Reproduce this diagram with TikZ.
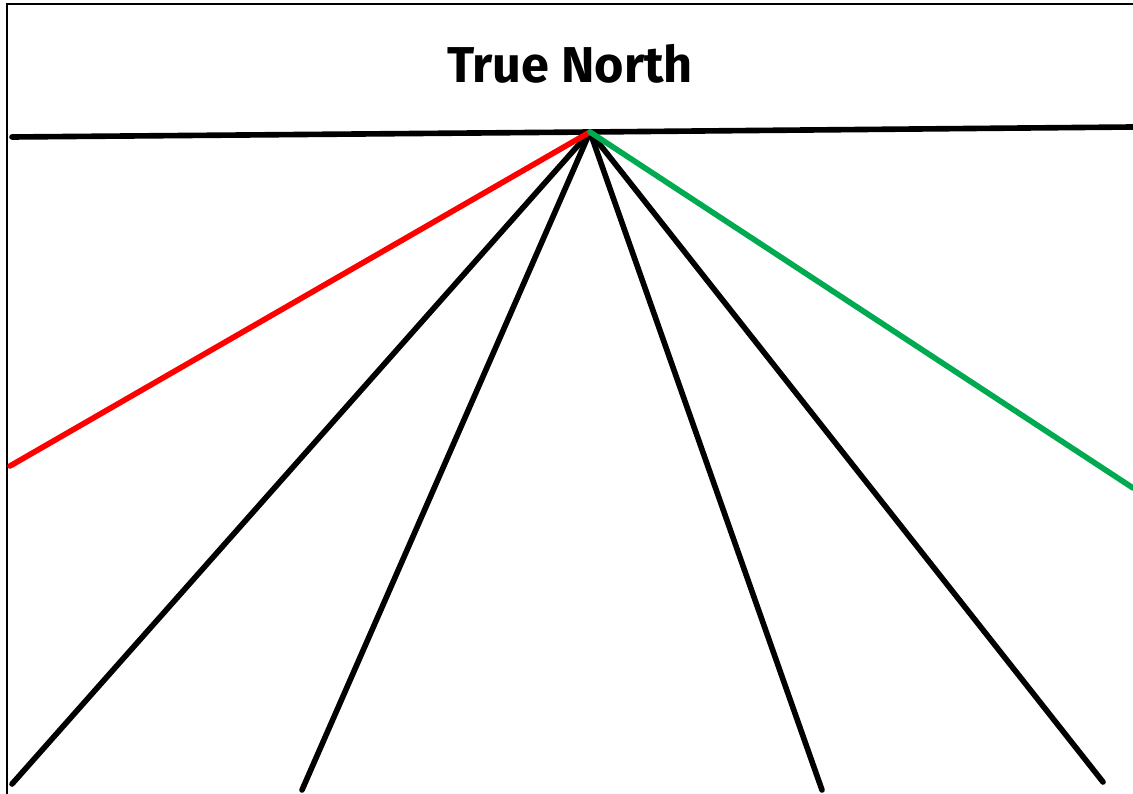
\documentclass[tikz,border=0pt]{standalone}
\usepackage{fontspec}
\setmainfont{Fira Sans}
\usepackage{tikz}

\definecolor{bearinggreen}{RGB}{0,170,80}

\tikzset{
  ray/.style={line width=4.8pt, line cap=round},
  frameline/.style={line width=2pt}
}

\begin{document}
\begin{tikzpicture}[x=0.03cm, y=-0.03cm]
  % canvas and frame
  \useasboundingbox (0,0) rectangle (1133,794);
  \draw[frameline] (7,800) -- (7,4) -- (1140,4);
  % title
  \node[font=\fontsize{43}{48}\selectfont\bfseries] (title) at (570,64) {True North};
  % horizon and apex
  \coordinate (apex) at (590,132);
  \coordinate (hl) at (12,137);
  \coordinate (hr) at (1133,127);
  \draw[ray] (hl) -- (apex) -- (hr);
  % bearings
  \coordinate (red) at (10,466);
  \coordinate (green) at (1133,488);
  \coordinate (b1) at (12,784);
  \coordinate (b2) at (302,790);
  \coordinate (b3) at (822,790);
  \coordinate (b4) at (1103,782);
  \foreach \e in {b1,b2,b3,b4}
    \draw[ray] (apex) -- (\e);
  \draw[ray, red] (apex) -- (red);
  \draw[ray, bearinggreen] (apex) -- (green);
\end{tikzpicture}
\end{document}
